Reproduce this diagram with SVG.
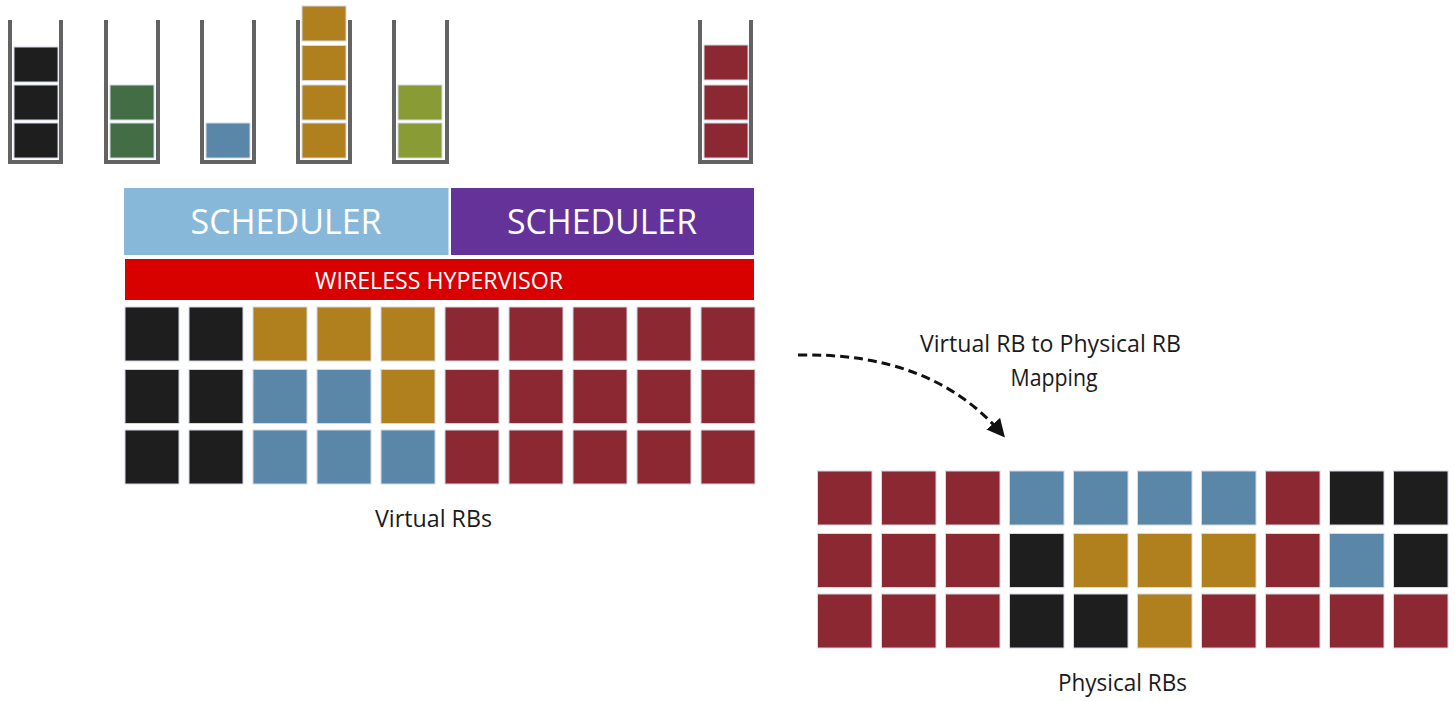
<svg xmlns="http://www.w3.org/2000/svg" width="1455" height="701" viewBox="0 0 1455 701">
<style>
.wall{fill:none;stroke:#636363;stroke-width:4;stroke-linejoin:miter}
.c{stroke:#d2dae6;stroke-width:1}
.k{fill:#1e1e1e}.g{fill:#b07f1e}.b{fill:#5a87a8}.r{fill:#8b2832}.dg{fill:#436d44}.ol{fill:#899b34}
.t{font-family:"Open Sans",Lato,"Liberation Sans",sans-serif}
.w{fill:#ffffff;text-anchor:middle}
.lbl{fill:#1a1a1a;text-anchor:middle;font-size:23px}
.conn{fill:none;stroke:#111;stroke-width:3;stroke-dasharray:9 5}
</style>
<defs>
<marker id="ah" markerWidth="6" markerHeight="6" refX="4.5" refY="3" orient="auto" markerUnits="strokeWidth">
<path d="M0,0 L6,3 L0,6 Z" fill="#111"/>
</marker>
</defs>

<g id="queue1">
<path class="wall" d="M10,20 V162 H61 V20"/>
<rect class="k c" x="14" y="47" width="44" height="35"/>
<rect class="k c" x="14" y="85" width="44" height="35"/>
<rect class="k c" x="14" y="123" width="44" height="35"/>
</g>
<g id="queue2">
<path class="wall" d="M106,20 V162 H158 V20"/>
<rect class="dg c" x="110" y="85" width="44" height="35"/>
<rect class="dg c" x="110" y="123" width="44" height="35"/>
</g>
<g id="queue3">
<path class="wall" d="M202,20 V162 H254 V20"/>
<rect class="b c" x="206" y="123" width="44" height="35"/>
</g>
<g id="queue4">
<path class="wall" d="M298,20 V162 H350 V20"/>
<rect class="g c" x="302" y="6" width="44" height="35"/>
<rect class="g c" x="302" y="45.5" width="44" height="35"/>
<rect class="g c" x="302" y="85" width="44" height="35"/>
<rect class="g c" x="302" y="123" width="44" height="35"/>
</g>
<g id="queue5">
<path class="wall" d="M394,20 V162 H447 V20"/>
<rect class="ol c" x="398" y="85" width="44" height="35"/>
<rect class="ol c" x="398" y="123" width="44" height="35"/>
</g>
<g id="queue6">
<path class="wall" d="M700,20 V162 H751 V20"/>
<rect class="r c" x="704" y="45" width="44" height="35"/>
<rect class="r c" x="704" y="85" width="44" height="35"/>
<rect class="r c" x="704" y="123" width="44" height="35"/>
</g>

<g id="scheduler1">
<rect x="124" y="188" width="324.5" height="67" fill="#88b8d9"/>
<text class="t w" x="286" y="234" font-size="35" textLength="191" lengthAdjust="spacingAndGlyphs">SCHEDULER</text>
</g>
<g id="scheduler2">
<rect x="451" y="188" width="303" height="67" fill="#64339a"/>
<text class="t w" x="602" y="234" font-size="35" textLength="190" lengthAdjust="spacingAndGlyphs">SCHEDULER</text>
</g>
<g id="hypervisor">
<rect x="125" y="259" width="629" height="41" fill="#d90000"/>
<text class="t w" x="439" y="289" font-size="24" textLength="248" lengthAdjust="spacingAndGlyphs">WIRELESS HYPERVISOR</text>
</g>

<g id="virtual-rbs">
<rect class="k c" x="125" y="307" width="54" height="54"/>
<rect class="k c" x="189" y="307" width="54" height="54"/>
<rect class="g c" x="253" y="307" width="54" height="54"/>
<rect class="g c" x="317" y="307" width="54" height="54"/>
<rect class="g c" x="381" y="307" width="54" height="54"/>
<rect class="r c" x="445" y="307" width="54" height="54"/>
<rect class="r c" x="509" y="307" width="54" height="54"/>
<rect class="r c" x="573" y="307" width="54" height="54"/>
<rect class="r c" x="637" y="307" width="54" height="54"/>
<rect class="r c" x="701" y="307" width="54" height="54"/>

<rect class="k c" x="125" y="369.5" width="54" height="54"/>
<rect class="k c" x="189" y="369.5" width="54" height="54"/>
<rect class="b c" x="253" y="369.5" width="54" height="54"/>
<rect class="b c" x="317" y="369.5" width="54" height="54"/>
<rect class="g c" x="381" y="369.5" width="54" height="54"/>
<rect class="r c" x="445" y="369.5" width="54" height="54"/>
<rect class="r c" x="509" y="369.5" width="54" height="54"/>
<rect class="r c" x="573" y="369.5" width="54" height="54"/>
<rect class="r c" x="637" y="369.5" width="54" height="54"/>
<rect class="r c" x="701" y="369.5" width="54" height="54"/>

<rect class="k c" x="125" y="430" width="54" height="54"/>
<rect class="k c" x="189" y="430" width="54" height="54"/>
<rect class="b c" x="253" y="430" width="54" height="54"/>
<rect class="b c" x="317" y="430" width="54" height="54"/>
<rect class="b c" x="381" y="430" width="54" height="54"/>
<rect class="r c" x="445" y="430" width="54" height="54"/>
<rect class="r c" x="509" y="430" width="54" height="54"/>
<rect class="r c" x="573" y="430" width="54" height="54"/>
<rect class="r c" x="637" y="430" width="54" height="54"/>
<rect class="r c" x="701" y="430" width="54" height="54"/>
<text class="t lbl" x="433.5" y="527" textLength="117" lengthAdjust="spacingAndGlyphs">Virtual RBs</text>
</g>

<g id="physical-rbs">
<rect class="r c" x="817.5" y="471" width="54.5" height="54"/>
<rect class="r c" x="881.5" y="471" width="54.5" height="54"/>
<rect class="r c" x="945.5" y="471" width="54.5" height="54"/>
<rect class="b c" x="1009.5" y="471" width="54.5" height="54"/>
<rect class="b c" x="1073.5" y="471" width="54.5" height="54"/>
<rect class="b c" x="1137.5" y="471" width="54.5" height="54"/>
<rect class="b c" x="1201.5" y="471" width="54.5" height="54"/>
<rect class="r c" x="1265.5" y="471" width="54.5" height="54"/>
<rect class="k c" x="1329.5" y="471" width="54.5" height="54"/>
<rect class="k c" x="1393.5" y="471" width="54.5" height="54"/>

<rect class="r c" x="817.5" y="533.5" width="54.5" height="54"/>
<rect class="r c" x="881.5" y="533.5" width="54.5" height="54"/>
<rect class="r c" x="945.5" y="533.5" width="54.5" height="54"/>
<rect class="k c" x="1009.5" y="533.5" width="54.5" height="54"/>
<rect class="g c" x="1073.5" y="533.5" width="54.5" height="54"/>
<rect class="g c" x="1137.5" y="533.5" width="54.5" height="54"/>
<rect class="g c" x="1201.5" y="533.5" width="54.5" height="54"/>
<rect class="r c" x="1265.5" y="533.5" width="54.5" height="54"/>
<rect class="b c" x="1329.5" y="533.5" width="54.5" height="54"/>
<rect class="k c" x="1393.5" y="533.5" width="54.5" height="54"/>

<rect class="r c" x="817.5" y="594" width="54.5" height="54"/>
<rect class="r c" x="881.5" y="594" width="54.5" height="54"/>
<rect class="r c" x="945.5" y="594" width="54.5" height="54"/>
<rect class="k c" x="1009.5" y="594" width="54.5" height="54"/>
<rect class="k c" x="1073.5" y="594" width="54.5" height="54"/>
<rect class="g c" x="1137.5" y="594" width="54.5" height="54"/>
<rect class="r c" x="1201.5" y="594" width="54.5" height="54"/>
<rect class="r c" x="1265.5" y="594" width="54.5" height="54"/>
<rect class="r c" x="1329.5" y="594" width="54.5" height="54"/>
<rect class="r c" x="1393.5" y="594" width="54.5" height="54"/>
<text class="t lbl" x="1122.5" y="691" textLength="129" lengthAdjust="spacingAndGlyphs">Physical RBs</text>
</g>

<g id="connectors">
<path class="conn" d="M798,355 Q932,352 1002,434" marker-end="url(#ah)"/>
<text class="t lbl" x="1050.5" y="352" style="font-size:24px" textLength="261" lengthAdjust="spacingAndGlyphs">Virtual RB to Physical RB</text>
<text class="t lbl" x="1054" y="386" style="font-size:24px" textLength="87" lengthAdjust="spacingAndGlyphs">Mapping</text>
</g>
</svg>
